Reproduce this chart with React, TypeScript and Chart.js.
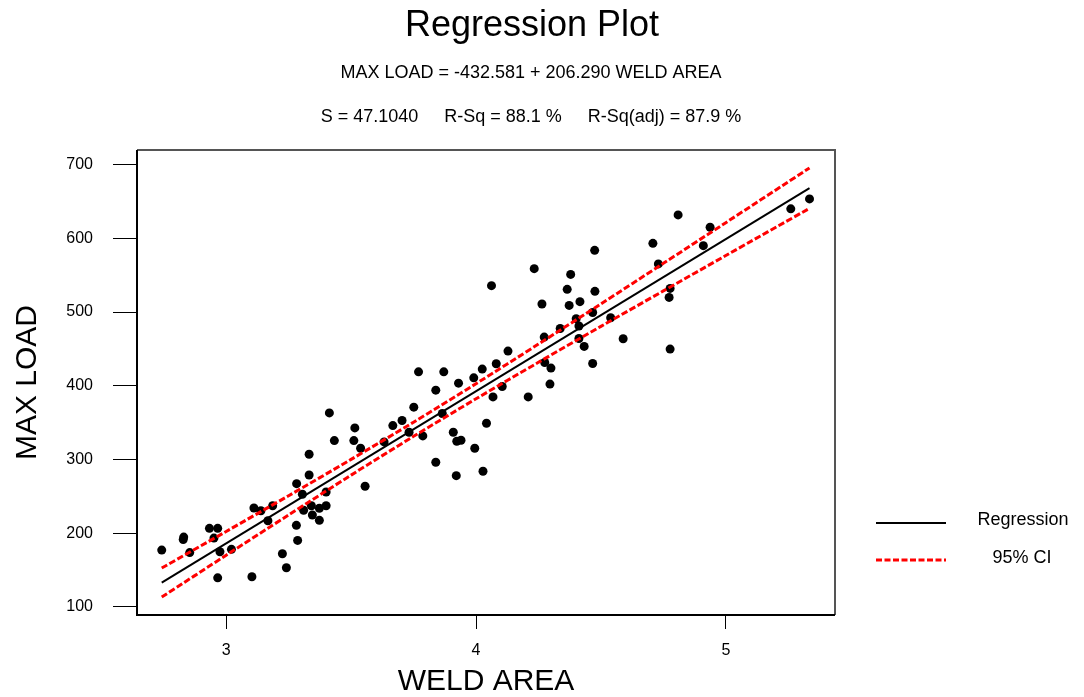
import React, { useEffect, useRef } from "react";
import { Chart, registerables } from "chart.js";

Chart.register(...registerables);

const weldArea = [
  2.742, 2.830, 2.828, 2.854, 2.933, 2.966, 2.951, 2.966, 2.975, 3.021,
  3.103, 3.111, 3.139, 3.167, 3.186, 3.225, 3.241, 3.282, 3.281, 3.286,
  3.305, 3.310, 3.332, 3.332, 3.341, 3.345, 3.373, 3.373, 3.400, 3.400,
  3.413, 3.433, 3.511, 3.515, 3.538, 3.556, 3.632, 3.667, 3.704, 3.732,
  3.751, 3.770, 3.787, 3.839, 3.839, 3.865, 3.871, 3.909, 3.921, 3.923,
  3.940, 3.930, 3.991, 3.995, 4.025, 4.028, 4.042, 4.062, 4.068, 4.081,
  4.105, 4.128, 4.209, 4.233, 4.264, 4.273, 4.275, 4.300, 4.296, 4.337,
  4.365, 4.379, 4.373, 4.401, 4.412, 4.412, 4.416, 4.433, 4.467, 4.467,
  4.475, 4.476, 4.539, 4.589, 4.708, 4.730, 4.773, 4.777, 4.777, 4.809,
  4.910, 4.937, 5.260, 5.335,
];
const maxLoad = [
  177.1, 194.8, 191.4, 173.7, 206.6, 206.6, 193.4, 139.5, 174.8, 178.1,
  140.9, 234.2, 230.5, 216.9, 237.3, 172.1, 153.1, 267.2, 210.7, 190.3,
  252.8, 231.1, 307.1, 279.0, 237.3, 224.7, 233.8, 217.5, 255.9, 237.3,
  363.2, 325.6, 325.6, 342.8, 315.3, 263.7, 323.8, 346.0, 352.8, 337.0,
  371.0, 418.9, 332.0, 296.3, 394.0, 362.3, 418.9, 337.0, 278.1, 324.8,
  326.1, 403.5, 410.7, 315.3, 422.6, 284.0, 349.2, 535.7, 384.9, 429.8,
  398.9, 447.0, 384.9, 558.8, 510.8, 466.0, 431.5, 423.9, 402.2, 477.7,
  530.7, 551.0, 508.9, 490.9, 481.0, 464.1, 514.0, 453.3, 430.2, 499.4,
  583.6, 528.0, 492.2, 463.7, 593.1, 565.2, 519.8, 532.0, 449.7, 631.7,
  590.0, 614.9, 639.9, 653.4,
];

const regX = [2.742, 5.335];
const regY = [133.1, 668.0];

const ciX = [2.742, 3.0, 3.25, 3.5, 3.75, 4.0, 4.25, 4.5, 4.75, 5.0, 5.335];
const ciUpper = [152.8, 202.4, 250.9, 300.1, 350.6, 402.8, 456.5, 511.0, 566.0, 621.2, 695.4];
const ciLower = [113.4, 170.2, 224.8, 278.8, 331.4, 382.3, 431.8, 480.5, 528.6, 576.6, 640.6];

const xTicks = [3, 4, 5];
const yTicks = [100, 200, 300, 400, 500, 600, 700];

const titleText = "Regression Plot";
const equationText = "MAX LOAD = -432.581 + 206.290 WELD AREA";
const statsParts = ["S = 47.1040", "R-Sq = 88.1 %", "R-Sq(adj) = 87.9 %"];
const legendLabels = ["Regression", "95% CI"];
const xTitle = "WELD AREA";
const yTitle = "MAX LOAD";

const FONT = '"Liberation Sans", Arial, Helvetica, sans-serif';

const textPlugin = {
  id: "texts",
  afterDraw(chart: any) {
    const ctx = chart.ctx as CanvasRenderingContext2D;
    const area = chart.chartArea;
    ctx.save();
    // frame
    ctx.lineWidth = 2;
    ctx.strokeStyle = "#555";
    ctx.beginPath();
    ctx.moveTo(area.left, area.top);
    ctx.lineTo(area.right, area.top);
    ctx.lineTo(area.right, area.bottom);
    ctx.stroke();
    ctx.strokeStyle = "#000";
    ctx.beginPath();
    ctx.moveTo(area.left, area.top);
    ctx.lineTo(area.left, area.bottom);
    ctx.lineTo(area.right, area.bottom);
    ctx.stroke();

    ctx.fillStyle = "#000";
    ctx.textBaseline = "alphabetic";
    ctx.textAlign = "center";
    ctx.font = `36px ${FONT}`;
    ctx.fillText(titleText, 532, 36);
    ctx.font = `18px ${FONT}`;
    ctx.fillText(equationText, 531, 78);

    // stats line with wide gaps
    const gap = 26;
    const widths = statsParts.map((s) => ctx.measureText(s).width);
    const total = widths.reduce((a, b) => a + b, 0) + gap * (statsParts.length - 1);
    let x = 531 - total / 2;
    ctx.textAlign = "left";
    statsParts.forEach((s, i) => {
      ctx.fillText(s, x, 122);
      x += widths[i] + gap;
    });

    // legend
    ctx.lineWidth = 2;
    ctx.strokeStyle = "#000";
    ctx.setLineDash([]);
    ctx.beginPath();
    ctx.moveTo(876, 523);
    ctx.lineTo(946, 523);
    ctx.stroke();
    ctx.lineWidth = 3;
    ctx.strokeStyle = "#ff0000";
    ctx.setLineDash([6, 2.5]);
    ctx.beginPath();
    ctx.moveTo(876, 560);
    ctx.lineTo(946, 560);
    ctx.stroke();
    ctx.setLineDash([]);
    ctx.textAlign = "center";
    ctx.font = `18px ${FONT}`;
    ctx.fillText(legendLabels[0], 1023, 525);
    ctx.fillText(legendLabels[1], 1022, 563);
    ctx.restore();
  },
};

export default function App() {
  const canvasRef = useRef<HTMLCanvasElement | null>(null);

  useEffect(() => {
    const canvas = canvasRef.current;
    if (!canvas) return;
    const pts = weldArea.map((x, i) => ({ x, y: maxLoad[i] }));
    const reg = regX.map((x, i) => ({ x, y: regY[i] }));
    const up = ciX.map((x, i) => ({ x, y: ciUpper[i] }));
    const lo = ciX.map((x, i) => ({ x, y: ciLower[i] }));

    const chart = new Chart(canvas, {
      type: "scatter",
      data: {
        datasets: [
          {
            label: "Regression",
            data: reg,
            showLine: true,
            borderColor: "#000",
            borderWidth: 2,
            pointRadius: 0,
            order: 1,
          },
          {
            label: "95% CI upper",
            data: up,
            showLine: true,
            borderColor: "#ff0000",
            borderWidth: 3,
            borderDash: [6.5, 2.5],
            pointRadius: 0,
            tension: 0.3,
            order: 1,
          },
          {
            label: "95% CI lower",
            data: lo,
            showLine: true,
            borderColor: "#ff0000",
            borderWidth: 3,
            borderDash: [6.5, 2.5],
            pointRadius: 0,
            tension: 0.3,
            order: 1,
          },
          {
            label: "Data",
            data: pts,
            backgroundColor: "#000",
            borderColor: "#000",
            borderWidth: 0,
            pointRadius: 4.5,
            order: 2,
          },
        ],
      },
      options: {
        responsive: false,
        devicePixelRatio: 1,
        animation: false,
        layout: { padding: { left: 0, top: 150, right: 249, bottom: 0 } },
        plugins: {
          legend: { display: false },
          tooltip: { enabled: false },
          title: { display: false },
        },
        scales: {
          x: {
            type: "linear",
            min: 2.643,
            max: 5.437,
            afterBuildTicks: (s: any) => {
              s.ticks = xTicks.map((v) => ({ value: v }));
            },
            afterFit: (s: any) => {
              s.height = 82;
            },
            border: { display: false },
            grid: {
              drawOnChartArea: false,
              drawTicks: true,
              tickLength: 14,
              color: "#000",
              lineWidth: 1,
            },
            ticks: {
              padding: 12,
              color: "#000",
              font: { family: FONT, size: 16 },
              maxRotation: 0,
            },
            title: {
              display: true,
              text: xTitle,
              color: "#000",
              font: { family: FONT, size: 30, lineHeight: 1 },
              padding: { top: 0, bottom: 0 },
            },
          },
          y: {
            type: "linear",
            min: 89.1,
            max: 719.7,
            afterBuildTicks: (s: any) => {
              s.ticks = yTicks.map((v) => ({ value: v }));
            },
            afterFit: (s: any) => {
              s.width = 137;
            },
            border: { display: false },
            grid: {
              drawOnChartArea: false,
              drawTicks: true,
              tickLength: 24,
              color: "#000",
              lineWidth: 1,
            },
            ticks: {
              padding: 20,
              color: "#000",
              font: { family: FONT, size: 16 },
            },
            title: {
              display: true,
              text: yTitle,
              color: "#000",
              font: { family: FONT, size: 30, lineHeight: 1 },
              padding: { top: 13, bottom: 0 },
            },
          },
        },
      },
      plugins: [textPlugin],
    });
    return () => chart.destroy();
  }, []);

  return (
    <div style={{ position: "fixed", left: 0, top: 0, width: 1084, height: 697, background: "#fff" }}>
      <canvas ref={canvasRef} width={1084} height={697} style={{ display: "block" }} />
    </div>
  );
}
